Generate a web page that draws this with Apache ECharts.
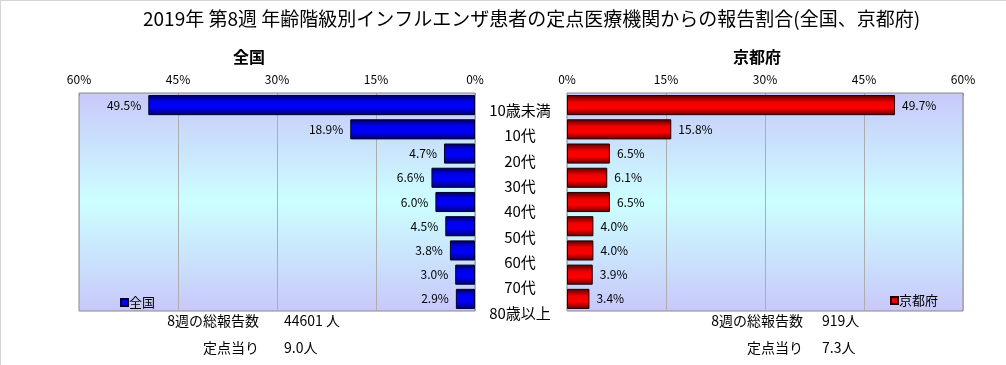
<!DOCTYPE html>
<html><head><meta charset="utf-8">
<script src="https://cdn.jsdelivr.net/npm/echarts@6/dist/echarts.min.js"></script>
<style>html,body{margin:0;padding:0;background:#fff}#c{width:1006px;height:365px;}</style>
</head><body><div id="c"></div>
<script>
const categories = ['10歳未満','10代','20代','30代','40代','50代','60代','70代','80歳以上'];
const zenkoku = [49.5, 18.9, 4.7, 6.6, 6.0, 4.5, 3.8, 3.0, 2.9];
const kyoto = [49.7, 15.8, 6.5, 6.1, 6.5, 4.0, 4.0, 3.9, 3.4];
const tickValues = [0, 15, 30, 45, 60];
const titleText = '2019年 第8週 年齢階級別インフルエンザ患者の定点医療機関からの報告割合(全国、京都府)';
const notesZenkoku = ['8週の総報告数', '44601 人', '定点当り', '9.0人'];
const notesKyoto = ['8週の総報告数', '919人', '定点当り', '7.3人'];

const FONT = '"Noto Sans CJK JP", sans-serif';
const chart = echarts.init(document.getElementById('c'), null, {renderer:'canvas'});
const G = echarts.graphic;
const bg = new G.LinearGradient(0,0,0,1,[
  {offset:0,color:'#c8c8fa'},{offset:0.5,color:'#ccffff'},{offset:1,color:'#c8c8fa'}]);
const blueGrad = new G.LinearGradient(0,0,0,1,[
  {offset:0,color:'#000050'},{offset:0.3,color:'#0000e8'},{offset:0.6,color:'#0000ff'},{offset:1,color:'#000070'}]);
const redGrad = new G.LinearGradient(0,0,0,1,[
  {offset:0,color:'#500000'},{offset:0.35,color:'#f00000'},{offset:0.65,color:'#ff0000'},{offset:1,color:'#600000'}]);

const axisCommon = {
  type:'value', min:tickValues[0], max:tickValues[tickValues.length-1], interval:tickValues[1]-tickValues[0], position:'top',
  axisLabel:{formatter:'{value}%', color:'#000', fontSize:12, fontFamily:FONT, margin:8},
  axisLine:{show:false}, axisTick:{show:true, inside:true, length:3, lineStyle:{color:'#999'}},
  splitLine:{show:true, lineStyle:{color:'#adadad', width:1}}
};

function note(x, y, text, align){
  return {type:'text', x:x, y:y, style:{text:text, align:align, verticalAlign:'middle', fill:'#000', font:'14px '+FONT}};
}

chart.setOption({
  animation:false,
  title:[
    {text:titleText, left:138, top:4, textStyle:{fontSize:19, fontWeight:'normal', color:'#000', fontFamily:FONT}},
    {text:'全国', left:244, top:44, textAlign:'center', textStyle:{fontSize:16, fontWeight:'bold', color:'#000', fontFamily:FONT}},
    {text:'京都府', left:752, top:44, textAlign:'center', textStyle:{fontSize:16, fontWeight:'bold', color:'#000', fontFamily:FONT}}
  ],
  legend:[
    {data:['全国'], left:115, top:291, itemWidth:7, itemHeight:7, itemGap:2, icon:'rect',
     textStyle:{fontSize:13, color:'#000', fontFamily:FONT, padding:[0,0,0,-4]}},
    {data:['京都府'], left:885, top:289, itemWidth:7, itemHeight:7, icon:'rect',
     textStyle:{fontSize:13, color:'#000', fontFamily:FONT, padding:[0,0,0,-4]}}
  ],
  grid:[
    {left:79, top:93, width:396, height:218, show:true, backgroundColor:bg, borderColor:'#888', borderWidth:1},
    {left:567, top:93, width:396, height:218, show:true, backgroundColor:bg, borderColor:'#888', borderWidth:1},
    {left:480, top:97.5, width:80, height:228, show:false}
  ],
  xAxis:[
    Object.assign({gridIndex:0, inverse:true}, axisCommon),
    Object.assign({gridIndex:1}, axisCommon),
    {gridIndex:2, type:'value', show:false, min:0, max:1}
  ],
  yAxis:[
    {gridIndex:0, type:'category', data:categories, inverse:true, show:false},
    {gridIndex:1, type:'category', data:categories, inverse:true, show:false},
    {gridIndex:2, type:'category', data:categories, inverse:true,
     axisLine:{show:false}, axisTick:{show:false}, position:'left', offset:-40,
     axisLabel:{align:'center', color:'#000', fontSize:15, fontFamily:FONT, margin:0}}
  ],
  series:[
    {name:'全国', type:'bar', xAxisIndex:0, yAxisIndex:0, data:zenkoku, barCategoryGap:'17%',
     itemStyle:{color:blueGrad, borderColor:'#00002a', borderWidth:1},
     label:{show:true, position:'left', distance:7, formatter:p=>p.value.toFixed(1)+'%', color:'#000', fontSize:12, fontFamily:FONT}},
    {name:'京都府', type:'bar', xAxisIndex:1, yAxisIndex:1, data:kyoto, barCategoryGap:'17%',
     itemStyle:{color:redGrad, borderColor:'#200000', borderWidth:1},
     label:{show:true, position:'right', distance:7, formatter:p=>p.value.toFixed(1)+'%', color:'#000', fontSize:12, fontFamily:FONT}}
  ],
  graphic:[
    {type:'line', shape:{x1:0, y1:0.5, x2:1006, y2:0.5}, style:{stroke:'#d4d4d4', lineWidth:1}},
    {type:'line', shape:{x1:0.5, y1:0, x2:0.5, y2:365}, style:{stroke:'#d4d4d4', lineWidth:1}},
    note(259, 321, notesZenkoku[0], 'right'),
    note(284, 321, notesZenkoku[1], 'left'),
    note(259, 348, notesZenkoku[2], 'right'),
    note(284, 348, notesZenkoku[3], 'left'),
    note(803, 321, notesKyoto[0], 'right'),
    note(822, 321, notesKyoto[1], 'left'),
    note(803, 348, notesKyoto[2], 'right'),
    note(822, 348, notesKyoto[3], 'left')
  ]
});
</script></body></html>
